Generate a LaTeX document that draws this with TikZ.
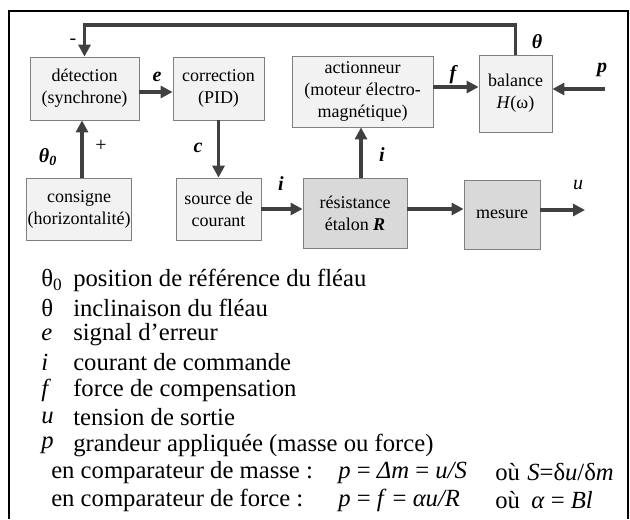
\documentclass[tikz,border=0pt]{standalone}
\usepackage{fontspec}
\setmainfont{Liberation Serif}
\usetikzlibrary{arrows.meta}

\definecolor{boxlight}{RGB}{242,242,242}
\definecolor{boxdark}{RGB}{217,217,217}
\definecolor{linegray}{RGB}{64,64,64}

\tikzset{
  blk/.style={draw=gray,fill=boxlight,line width=0.6pt,align=center,inner sep=1pt,
    font=\fontsize{13.5}{16.5}\selectfont},
  blkdark/.style={blk,fill=boxdark},
  arr/.style={draw=linegray,line width=2.6pt,-{Triangle[length=9pt,width=9pt]}},
  sig/.style={inner sep=0.75pt,font=\fontsize{15}{18}\selectfont\bfseries\itshape},
  leg/.style={anchor=west,inner sep=0.75pt,font=\fontsize{18.5}{21}\selectfont}
}

\begin{document}
\begin{tikzpicture}[x=0.75pt,y=0.75pt,yscale=-1,xscale=1]
\useasboundingbox (0,0) rectangle (630,519);

% frame
\draw [line width=1.5pt] (9,519) -- (9,11) -- (628,11) -- (628,519) ;

% blocks
\node [blk,minimum width=109*0.75pt,minimum height=63*0.75pt] (det) at (84.5,88.5) {détection\\(synchrone)};
\node [blk,minimum width=91*0.75pt,minimum height=63*0.75pt] (corr) at (218.5,88.5) {correction\\(PID)};
\node [blk,minimum width=104*0.75pt,minimum height=62*0.75pt] (cons) at (79,209) {consigne\\(horizontalité)};
\node [blk,minimum width=85*0.75pt,minimum height=62*0.75pt] (src) at (218.5,209) {source de\\courant};
\node [blkdark,minimum width=104*0.75pt,minimum height=70*0.75pt] (res) at (355,213) {résistance\\étalon \textbf{\textit{R}}};
\node [blkdark,minimum width=76*0.75pt,minimum height=69*0.75pt] (mes) at (502,214.5) {mesure};
\node [blk,minimum width=141*0.75pt,minimum height=71*0.75pt] (act) at (362.5,91.5) {actionneur\\(moteur électro-\\magnétique)};
\node [blk,minimum width=73*0.75pt,minimum height=77*0.75pt] (bal) at (515.5,93.5) {balance\\\textit{H}(ω)};

\coordinate (pin) at (605,89);
\coordinate (uout) at (585,210);

% connectors
\draw [arr] (det.east |- 0,92) -- (corr.west |- 0,92);
\draw [arr] (cons.north -| 82,0) -- (det.south -| 82,0);
\draw [arr] (corr.south) -- (src.north);
\draw [arr] (src.east) -- (res.west |- src.east);
\draw [arr] (res.north -| 361,0) -- (act.south -| 361,0);
\draw [arr] (act.east |- 0,87) -- (bal.west |- 0,87);
\draw [arr] (pin) -- (bal.east |- pin);
\draw [arr] (res.east |- 0,209) -- (mes.west |- 0,209);
\draw [arr] (mes.east |- uout) -- (uout);
\draw [arr] (bal.north) -- (bal.north |- 0,25) -- (det.north |- 0,25) -- (det.north);

% signal labels
\node [inner sep=0.75pt,font=\fontsize{15}{18}\selectfont] (minus) at (73,42) {-};
\node [inner sep=0.75pt,font=\fontsize{15}{18}\selectfont] (plus) at (101,146) {+};
\node [sig] (le) at (157,77) {e};
\node [sig] (lth0) at (48,157) {θ\textsubscript{0}};
\node [sig] (lc) at (198,148) {c};
\node [sig] (li1) at (281,184) {i};
\node [sig] (li2) at (382,155) {i};
\node [sig] (lf) at (453,75) {f};
\node [sig] (lth) at (537,42) {θ};
\node [sig] (lp) at (602,70) {p};
\node [inner sep=0.75pt,font=\fontsize{15}{18}\selectfont\itshape] (lu) at (578,185) {u};

% legend
\node [leg] (s1) at (40,280) {θ\textsubscript{0}};
\node [leg] (t1) at (72,280) {position de référence du fléau};
\node [leg] (s2) at (40,307.5) {θ};
\node [leg] (t2) at (72,307.5) {inclinaison du fléau};
\node [leg] (s3) at (40,335) {\textit{e}};
\node [leg] (t3) at (72,335) {signal d’erreur};
\node [leg] (s4) at (40,362.5) {\textit{i}};
\node [leg] (t4) at (72,362.5) {courant de commande};
\node [leg] (s5) at (40,390) {\textit{f}};
\node [leg] (t5) at (72,390) {force de compensation};
\node [leg] (s6) at (40,417.5) {\textit{u}};
\node [leg] (t6) at (72,417.5) {tension de sortie};
\node [leg] (s7) at (40,445) {\textit{p}};
\node [leg] (t7) at (72,445) {grandeur appliquée (masse ou force)};
\node [leg] (m1) at (50,472.5) {en comparateur de masse :};
\node [leg] (m2) at (337,472.5) {\textit{p} = \textit{Δm} = \textit{u/S}};
\node [leg] (m3) at (494,472.5) {où};
\node [leg] (m4) at (526,472.5) {\textit{S}=δ\textit{u}/δ\textit{m}};
\node [leg] (f1) at (50,500) {en comparateur de force :};
\node [leg] (f2) at (337,500) {\textit{p} = \textit{f} = \textit{αu/R}};
\node [leg] (f3) at (494,500) {où};
\node [leg] (f4) at (530,500) {\textit{α} = \textit{Bl}};

\end{tikzpicture}
\end{document}
